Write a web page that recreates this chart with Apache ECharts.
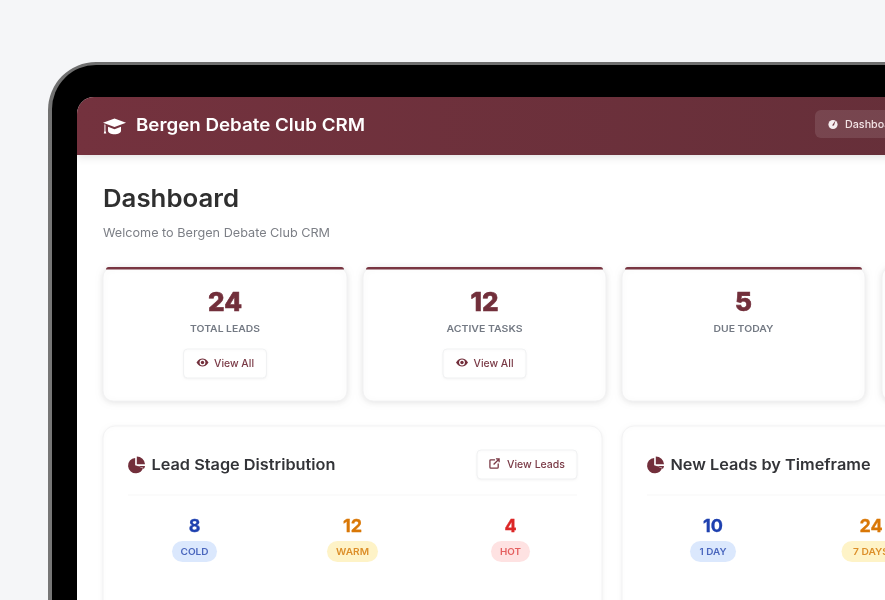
<!DOCTYPE html>
<html>
<head>
<meta charset="utf-8">
<title>Bergen Debate Club CRM</title>
<script src="https://cdn.jsdelivr.net/npm/echarts@6/dist/echarts.min.js"></script>
<style>
html, body { margin: 0; padding: 0; background: #f5f6f8; overflow: hidden; }
#main { width: 885px; height: 600px; filter: blur(0.55px); }
</style>
</head>
<body>
<div id="main"></div>
<script>
// 顶部统计卡片
var appTitle = 'Bergen Debate Club CRM';
var pageTitle = 'Dashboard';
var pageSubtitle = 'Welcome to Bergen Debate Club CRM';
var navLabel = 'Dashboard';
var statValues = [24, 12, 5];
var statLabels = ['TOTAL LEADS', 'ACTIVE TASKS', 'DUE TODAY'];
var statHasButton = [true, true, false];
// 线索阶段
var stageValues = [8, 12, 4];
var stageLabels = ['COLD', 'WARM', 'HOT'];
// 新线索
var timeframeValues = [10, 24];
var timeframeLabels = ['1 DAY', '7 DAYS'];

var chart = echarts.init(document.getElementById('main'));
var FONT = 'Inter, "Noto Sans", sans-serif';
var MAROON = '#722f3b';
var els = [];

var measureCtx = document.createElement('canvas').getContext('2d');

// width 为目标宽度，字体比原图窄，所以横向拉伸；bold 给数字加粗一点
function text(str, x, y, size, weight, fill, align, width, bold) {
    var font = weight + ' ' + size + 'px ' + FONT;
    measureCtx.font = font;
    var sx = width ? width / measureCtx.measureText(str).width : 1;
    var style = {
        text: String(str), x: 0, y: 0, font: font, fill: fill,
        align: align, verticalAlign: 'middle',
        textAlign: align, textVerticalAlign: 'middle'
    };
    if (bold) {
        style.stroke = fill;
        style.lineWidth = bold;
    }
    els.push({ type: 'text', x: x, y: y, scaleX: sx, silent: true, style: style });
}

function rect(x, y, w, h, r, style) {
    els.push({ type: 'rect', silent: true, shape: { x: x, y: y, width: w, height: h, r: r }, style: style });
}

function circle(cx, cy, r, fill) {
    els.push({ type: 'circle', silent: true, shape: { cx: cx, cy: cy, r: r }, style: { fill: fill } });
}

// 图标注册成自定义 shape
echarts.graphic.registerShape('iconCap', echarts.graphic.extendPath('M0 8 L16 2 L32 8 L16 14 Z M7 13.5 L16 17 L25 13.5 L25 19 C25 22 21 24 16 24 C11 24 7 22 7 19 Z M2 10 L3.4 10.6 L3.4 19 L4.6 23 L1 23 L2 19 Z'));
echarts.graphic.registerShape('iconPie', echarts.graphic.extendPath('M13 3.5 A14 14 0 1 0 27.5 21.5 L13 17 Z M16 1 A15 15 0 0 1 31 15 L16 15 Z M17 18 L31 18 A15 15 0 0 1 29 23 Z'));
echarts.graphic.registerShape('iconLens', echarts.graphic.extendPath('M0 8 C4 1 8 0 12 0 C16 0 20 1 24 8 C20 15 16 16 12 16 C8 16 4 15 0 8 Z'));
echarts.graphic.registerShape('iconLink', echarts.graphic.extendPath('M13 4 L4 4 Q2 4 2 6 L2 20 Q2 22 4 22 L18 22 Q20 22 20 20 L20 12 M10 14 L22 2 M15 2 L22 2 L22 9'));
echarts.graphic.registerShape('iconNeedle', echarts.graphic.extendPath('M0 10 L7 0 L4 10 Z'));

function icon(type, x, y, sx, sy, style) {
    els.push({ type: type, silent: true, x: x, y: y, scaleX: sx, scaleY: sy, style: style });
}

function eye(cx, cy) {
    icon('iconLens', cx - 6, cy - 4, 0.5, 0.5, { fill: MAROON });
    circle(cx, cy, 2.9, '#fff');
    circle(cx, cy, 1.7, MAROON);
}

function button(x, y, w, h) {
    rect(x, y, w, h, 4, { fill: '#fff', stroke: '#f1f2f3', lineWidth: 1, shadowBlur: 2, shadowColor: 'rgba(0,0,0,0.03)', shadowOffsetY: 1 });
}

// 外壳和屏幕
rect(48, 62, 900, 700, 48, { fill: new echarts.graphic.LinearGradient(0, 0, 0, 0.2, [{ offset: 0, color: '#6f6f6f' }, { offset: 1, color: '#777' }]) });
rect(52, 65, 900, 700, 44, { fill: '#000' });
rect(77, 97, 900, 600, [17, 0, 0, 0], { fill: '#fff' });
rect(77, 97, 900, 58, [17, 0, 0, 0], {
    fill: new echarts.graphic.LinearGradient(0, 0, 1, 0, [{ offset: 0, color: '#74323e' }, { offset: 1, color: '#652f39' }]),
    shadowBlur: 8, shadowColor: 'rgba(0,0,0,0.12)', shadowOffsetY: 2
});

// 顶栏
icon('iconCap', 103, 117, 0.72, 0.72, { fill: '#fff' });
text(appTitle, 136, 126, 17.5, 600, '#fff', 'left', 229);
rect(815, 110, 100, 28, 6, { fill: 'rgba(255,255,255,0.11)' });
circle(833, 124.5, 4.6, '#f6eef0');
icon('iconNeedle', 832, 120.5, 0.5, 0.5, { fill: '#6e3640' });
text(navLabel, 845, 125, 10.5, 500, '#f3e4e6', 'left', 56);

// 标题
text(pageTitle, 103, 199.5, 24.5, 600, '#2f2f2f', 'left', 136);
text(pageSubtitle, 103, 233.5, 12, 400, '#7c7f86', 'left', 227);

// 统计卡片
var cardX = [103, 363, 622, 882];
var cardW = [244, 243, 243, 243];
var labelW = [70, 76, 60];
cardX.forEach(function (x, i) {
    rect(x, 267, cardW[i], 134, 10, { fill: '#fff', stroke: '#f2f2f3', lineWidth: 1, shadowBlur: 6, shadowColor: 'rgba(0,0,0,0.10)', shadowOffsetY: 1 });
    rect(x + 3, 267, cardW[i] - 6, 2.6, [3, 3, 0, 0], { fill: '#783541' });
    if (i >= statValues.length) return;
    var cx = x + cardW[i] / 2;
    text(statValues[i], cx, 303, 26, 800, MAROON, 'center', null, 0.6);
    text(statLabels[i], cx, 329.5, 9, 600, '#747a84', 'center', labelW[i]);
    if (statHasButton[i]) {
        button(cx - 41.5, 349, 83, 29);
        eye(cx - 22.5, 362.5);
        text('View All', cx - 11, 364, 10.5, 500, '#7a3a46', 'left', 40);
    }
});

// 下方面板
function panel(x, w, title, titleW, values, labels, centers, pillW, pillTextW) {
    rect(x, 426, w, 260, 12, { fill: '#fff', stroke: '#f3f3f4', lineWidth: 1, shadowBlur: 4, shadowColor: 'rgba(0,0,0,0.05)', shadowOffsetY: 1 });
    icon('iconPie', x + 25, 456, 0.55, 0.55, { fill: MAROON });
    text(title, x + 48.5, 465.5, 15, 600, '#333438', 'left', titleW);
    rect(x + 25, 494.5, w - 50, 1, 0, { fill: '#f7f7f8' });
    var pillFill = ['#dbe8fd', '#fef3c7', '#fee2e2'];
    var pillText = ['#4a66bd', '#dc8f2a', '#e45f5f'];
    var numFill = ['#1e40af', '#d97706', '#dc2626'];
    values.forEach(function (v, i) {
        var cx = centers[i];
        text(v, cx, 527, 18, 700, numFill[i], 'center', null, 0.3);
        rect(cx - pillW[i] / 2, 541, pillW[i], 21, 10.5, { fill: pillFill[i] });
        text(labels[i], cx, 552, 9.5, 600, pillText[i], 'center', pillTextW[i]);
    });
}

panel(103, 499, 'Lead Stage Distribution', 184, stageValues, stageLabels, [194.5, 352.5, 510.5], [45, 51, 39], [28, 33, 21]);
panel(622, 499, 'New Leads by Timeframe', 200, timeframeValues, timeframeLabels, [713, 871], [46, 59], [27, 36]);

button(477, 450, 100, 29);
icon('iconLink', 489, 458, 0.46, 0.46, { fill: 'none', stroke: '#7a3a46', lineWidth: 2.8 });
text('View Leads', 507, 465, 10.5, 500, '#7a3a46', 'left', 58);

chart.setOption({
    backgroundColor: '#f5f6f8',
    animation: false,
    graphic: { elements: els }
});
</script>
</body>
</html>
